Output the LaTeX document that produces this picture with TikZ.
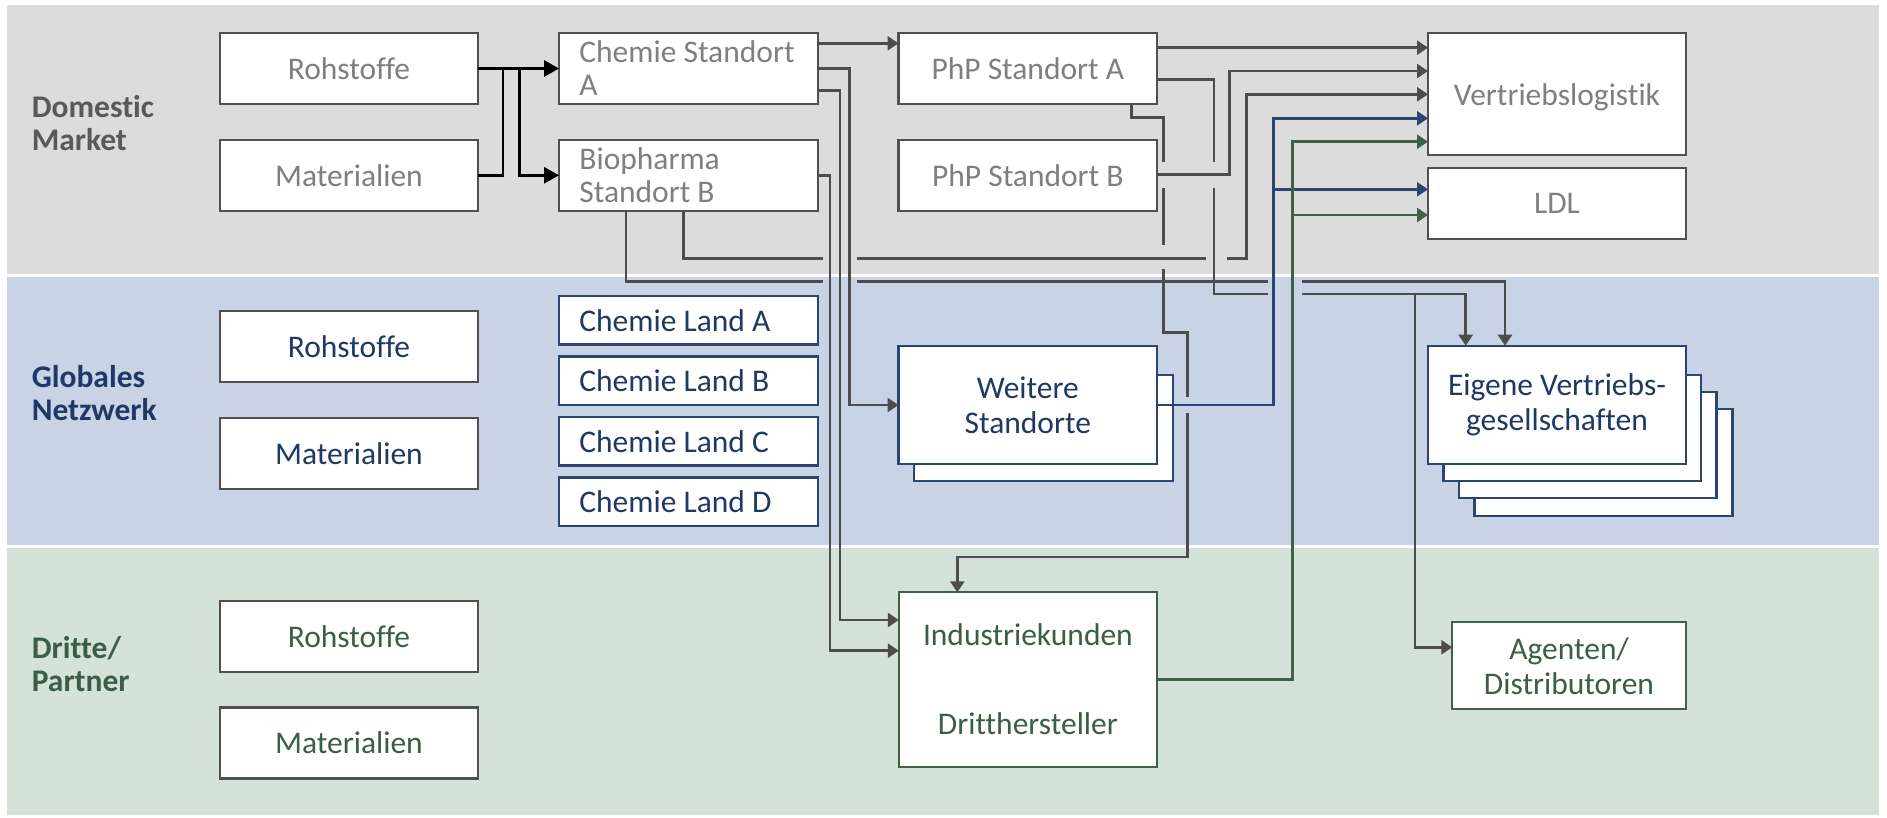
\documentclass[tikz,border=0pt]{standalone}
\usepackage{fontspec}
\setmainfont{Carlito}[Ligatures={NoCommon,NoContextual}]
\usetikzlibrary{arrows.meta}
\definecolor{bandD}{HTML}{DCDCDC}
\definecolor{bandG}{HTML}{C8D3E6}
\definecolor{bandT}{HTML}{D5E2D9}
\definecolor{boxline}{HTML}{505050}
\definecolor{navyline}{HTML}{2B4470}
\definecolor{greenline}{HTML}{3E6148}
\definecolor{txtD}{HTML}{7F7F7F}
\definecolor{txtG}{HTML}{203864}
\definecolor{txtT}{HTML}{3B5E45}
\definecolor{labD}{HTML}{595959}
\definecolor{lineC}{HTML}{4D4D4D}
\definecolor{lineB}{HTML}{2B4470}
\definecolor{lineT}{HTML}{3E6148}
\begin{document}
\begin{tikzpicture}[x=1pt,y=-1pt,
  every node/.style={inner sep=0pt,outer sep=0pt},
  txt/.style={font=\fontsize{31.5}{33}\selectfont},
  txtwide/.style={font=\fontsize{31.5}{35}\selectfont},
  boxD/.style={txt,draw=boxline,line width=2.2pt,fill=white,text=txtD,align=center,minimum width=258pt,minimum height=71pt},
  boxG/.style={boxD,text=txtG},
  boxGn/.style={boxD,draw=navyline,text=txtG},
  boxT/.style={boxD,text=txtT},
  boxTg/.style={boxD,draw=greenline,text=txtT},
  lefttext/.style={align=flush left,text width=218pt,minimum width=258.7pt},
  backN/.style={draw=navyline,line width=2.2pt,fill=white},
  lbl/.style={anchor=west,align=flush left,font=\bfseries\fontsize{31.5}{32.6}\selectfont},
  conn/.style={draw=lineC,line width=2.6pt,-{Triangle[length=11pt,width=14pt]}},
  connB/.style={conn,draw=lineB},
  connT/.style={conn,draw=lineT},
  blk/.style={draw=black,line width=2.8pt},
  blkarrow/.style={blk,-{Triangle[length=15pt,width=16pt]}}
]
\useasboundingbox (0,0) rectangle (1887,818);
\fill[white] (0,0) rectangle (1887,818);
% bands
\fill[bandD] (7,5) rectangle (1879,274);
\fill[bandG] (7,277) rectangle (1879,545);
\fill[bandT] (7,548) rectangle (1879,815);
% labels
\node[lbl,text=labD] (lD) at (31.8,123.3) {Domestic\\Market};
\node[lbl,text=txtG] (lG) at (31.8,393) {Globales\\Netzwerk};
\node[lbl,text=txtT] (lT) at (31.8,664) {Dritte/\\Partner};
% left column
\node[boxD] (dR) at (349,68.5) {Rohstoffe};
\node[boxD,minimum height=70.7pt] (dM) at (349,175.3) {Materialien};
\node[boxG] (gR) at (349,346.5) {Rohstoffe};
\node[boxG] (gM) at (349,453.2) {Materialien};
\node[boxT] (tR) at (349,636.5) {Rohstoffe};
\node[boxT] (tM) at (349,743) {Materialien};
% middle column
\node[boxD,lefttext] (chemA) at (688.4,68.5) {Chemie Standort\\A};
\node[boxD,lefttext,minimum height=70.7pt] (bio) at (688.4,175.3) {Biopharma\\Standort B};
\node[boxGn,lefttext,minimum height=48.5pt] (landA) at (688.4,320.3) {Chemie Land A};
\node[boxGn,lefttext,minimum height=48.5pt] (landB) at (688.4,380.8) {Chemie Land B};
\node[boxGn,lefttext,minimum height=48.5pt] (landC) at (688.4,441.3) {Chemie Land C};
\node[boxGn,lefttext,minimum height=48.5pt] (landD) at (688.4,501.7) {Chemie Land D};
% PhP column
\node[boxD,minimum width=258.5pt] (phpA) at (1027.8,68.5) {PhP Standort A};
\node[boxD,minimum width=258.5pt,minimum height=70.7pt] (phpB) at (1027.8,175.3) {PhP Standort B};
\draw[backN] (914,375) rectangle (1172.6,481.3);
\node[boxGn,txtwide,minimum width=258.5pt,minimum height=118.6pt] (weit) at (1027.8,405) {Weitere\\Standorte};
\node[boxTg,minimum width=258.2pt,minimum height=174.4pt] (ind) at (1027.9,679.5) {Industriekunden\\[56pt]Dritthersteller};
% right column
\node[boxD,minimum height=122.3pt,text depth=0pt] (vert) at (1557,94.2) {Vertriebslogistik};
\node[boxD] (ldl) at (1557,203.8) {LDL};
\draw[backN] (1474.5,409.3) rectangle (1732.5,515.7);
\draw[backN] (1459,392) rectangle (1716.5,498.3);
\draw[backN] (1443.4,375) rectangle (1700.9,481.3);
\node[boxGn,txtwide,minimum height=118.6pt] (eig) at (1557,405) {Eigene Vertriebs-\\gesellschaften};
\node[boxTg,txtwide,minimum width=233.4pt,minimum height=87.3pt] (agt) at (1569,665.7) {Agenten/\\Distributoren};
% black connectors
\draw[blkarrow] (dR.east) -- (chemA.west);
\draw[blk] (dM.east) -- (503,175.3) -- (503,68.5);
\coordinate (j1) at (519.3,68.5);
\draw[blkarrow] (j1) -- (519.3,175.3) -- (bio.west);
% grey connectors
\draw[conn] (chemA.east |- 0,43.3) -- (phpA.west |- 0,43.3);
\draw[conn] (chemA.east) -- (849.4,68.5) -- (849.4,405) -- (weit.west);
\draw[conn] (chemA.east |- 0,90.7) -- (840,90.7) -- (840,620) -- (ind.west |- 0,620);
\draw[conn] (bio.east) -- (830,175.3) -- (830,650.7) -- (ind.west |- 0,650.7);
\draw[conn] (bio.south -| 683.2,0) -- (683.2,258.3) -- (822.5,258.3)
  (857,258.3) -- (1206.4,258.3)
  (1226.5,258.3) -- (1246.6,258.3) -- (1246.6,94.3) -- (vert.west |- 0,94.3);
\draw[conn] (bio.south -| 626,0) -- (626,281.7) -- (822.5,281.7)
  (857,281.7) -- (1268.3,281.7)
  (1302.3,281.7) -- (1505,281.7) -- (eig.north -| 1505,0);
\draw[conn] (phpA.east |- 0,47.7) -- (vert.west |- 0,47.7);
\draw[conn] (phpA.east |- 0,79.3) -- (1214,79.3) -- (1214,161.7)
  (1214,188.3) -- (1214,294) -- (1268.3,294)
  (1302.3,294) -- (1465.7,294) -- (eig.north -| 1465.7,0);
\coordinate (j2) at (1415,294);
\draw[conn] (j2) -- (1415,647.3) -- (agt.west |- 0,647.3);
\draw[conn] (phpA.south -| 1131.5,0) -- (1131.5,117.3) -- (1163.5,117.3) -- (1163.5,161.7)
  (1163.5,188.3) -- (1163.5,245)
  (1163.5,269) -- (1163.5,332.7) -- (1187.7,332.7) -- (1187.7,396.7)
  (1187.7,412.7) -- (1187.7,557) -- (957.3,557) -- (ind.north -| 957.3,0);
\draw[conn] (phpB.east |- 0,174.3) -- (1229.5,174.3) -- (1229.5,71) -- (vert.west |- 0,71);
% blue connectors
\draw[connB] (weit.east) -- (1273.3,405) -- (1273.3,118.3) -- (vert.west |- 0,118.3);
\coordinate (j3) at (1273.3,189.3);
\draw[connB] (j3) -- (ldl.west |- 0,189.3);
% green connectors
\draw[connT] (ind.east |- 0,679.3) -- (1292.3,679.3) -- (1292.3,141.7) -- (vert.west |- 0,141.7);
\coordinate (j4) at (1292.3,215);
\draw[connT] (j4) -- (ldl.west |- 0,215);
\end{tikzpicture}
\end{document}
